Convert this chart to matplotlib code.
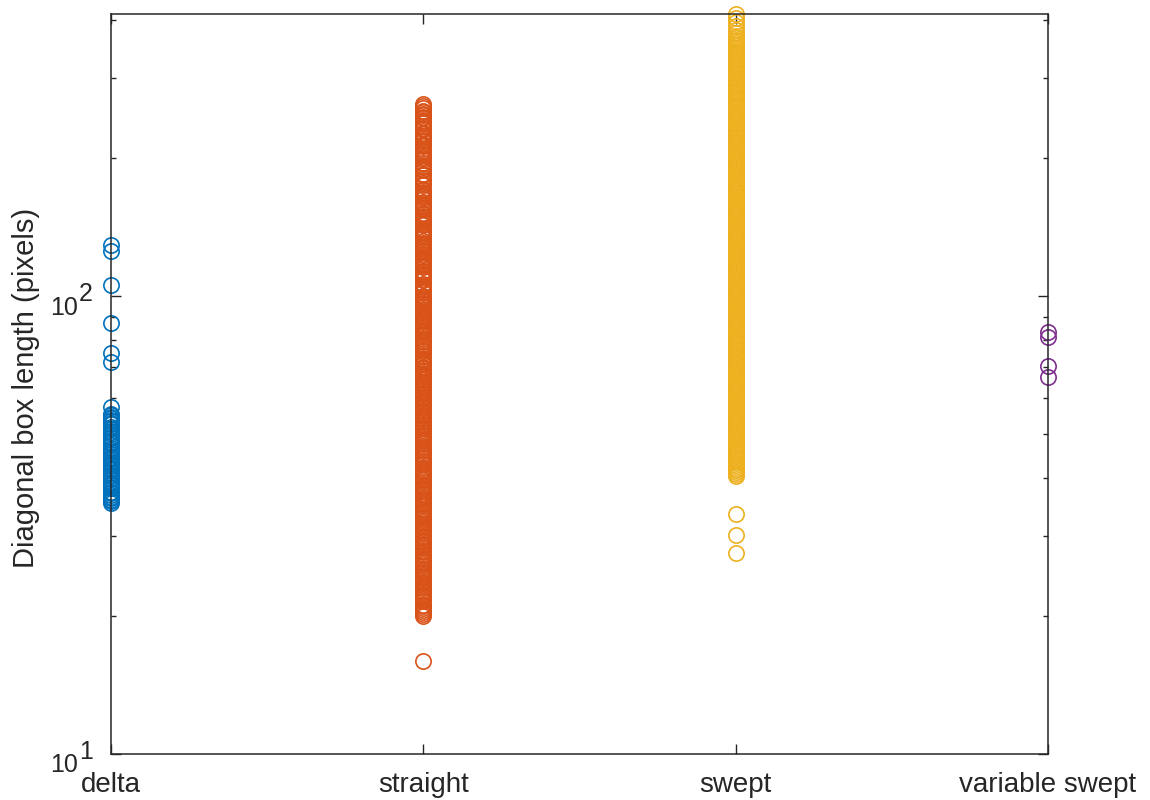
import matplotlib
matplotlib.use("Agg")
import matplotlib.pyplot as plt
import matplotlib.transforms as mtransforms
import numpy as np
from matplotlib.ticker import FuncFormatter, LogLocator, NullFormatter

plt.rcParams["font.family"] = ["Liberation Sans", "DejaVu Sans"]

categories = ["delta", "straight", "swept", "variable swept"]
colors = ["#0072BD", "#D95319", "#EDB120", "#7E2F8E"]

# diagonal box lengths (pixels) per category
delta = [
    129.5, 125.3, 105.6, 87.4, 75.2, 71.8, 57.3,
    55.3, 54.9, 54.5, 54.1, 53.7, 53.3, 52.9, 52.5, 51.7, 51.3, 50.5, 50.1,
    49.3, 48.9, 48.5, 48.1, 47.7, 47.3, 46.5, 46.1, 45.7, 45.3, 44.6, 44.3,
    44.0, 43.7, 43.1, 42.8, 42.5, 42.2, 41.9, 41.6, 41.0, 40.7, 40.4, 40.1,
    39.8, 39.2, 38.9, 38.6, 38.3, 38.0, 37.4, 37.1, 36.8, 36.5, 36.2, 35.9,
    35.6, 35.4,
]

straight = [
    16.0,
    20.0, 20.2, 20.4, 20.6, 20.8, 21.0, 21.2, 21.6, 21.8, 22.0, 22.2, 22.4,
    22.6, 22.8, 23.0, 23.2, 23.4, 23.6, 23.8, 24.0, 24.2, 24.4, 24.6, 24.8,
    25.0, 25.2, 25.4, 25.8, 26.0, 26.2, 26.4, 26.6, 26.8, 27.0, 27.4, 27.6,
    27.8, 28.2, 28.4, 28.6, 28.8, 29.0, 29.2, 29.4, 29.6, 29.8,
    30.0, 30.3, 30.6, 30.9, 31.2, 31.5, 31.8, 32.1, 32.4, 32.7, 33.0, 33.3,
    33.6, 33.9, 34.2, 34.8, 35.1, 35.4, 35.7, 36.0, 36.3, 36.6, 36.9, 37.2,
    37.5, 37.8, 38.1, 38.4, 38.7, 39.3, 39.6, 39.9,
    40.2, 40.6, 41.0, 41.4, 41.8, 42.2, 43.0, 43.4, 43.8, 44.2, 44.6, 45.0,
    45.4, 45.8, 46.2, 46.6, 47.0, 47.8, 48.2, 48.6, 49.0, 49.4, 49.8, 50.2,
    50.6, 51.0, 51.4, 51.8, 52.2, 52.6, 53.0, 53.4, 53.8, 54.2, 54.6,
    55.0, 55.5, 56.0, 56.5, 57.0, 57.5, 58.0, 58.5, 59.0, 59.5, 60.0, 60.5,
    61.0, 61.5, 62.0, 62.5, 63.0, 63.5, 64.0, 64.5, 65.0, 65.5, 66.0, 66.5,
    67.0, 67.5, 68.0, 68.5, 69.0, 69.5, 70.0, 71.0, 71.5, 72.0, 72.5, 73.0,
    74.0, 75.0,
    75.7, 76.4, 77.1, 77.8, 78.5, 79.2, 79.9, 80.6, 82.0, 82.7, 83.4, 84.1,
    84.8, 85.5, 86.2, 86.9, 87.6, 88.3, 89.0, 89.7, 90.4, 91.1, 91.8, 92.5,
    93.2, 93.9, 94.6, 95.3, 96.0, 96.7, 97.4, 98.1, 98.8, 99.5,
    100.2, 102.0, 102.9, 103.8, 104.7, 105.6, 106.5, 108.3, 109.2, 110.1,
    111.0, 111.9, 112.8, 113.7, 115.5, 116.4, 117.3, 118.2, 119.1, 120.0,
    120.9, 121.8, 122.7, 123.6, 124.5, 125.4, 126.3, 127.2, 128.1, 129.0,
    129.9,
    130.8, 131.9, 134.2, 135.4, 136.6, 137.8, 139.0, 140.2, 142.6, 143.8,
    145.0, 146.2, 147.4, 148.6, 149.8, 151.0, 152.2, 154.6, 155.8, 157.0,
    158.2, 159.4, 160.6, 163.0, 164.2, 165.4, 166.6, 167.8, 169.0,
    170.2, 171.7, 174.7, 176.2, 179.2, 180.7, 183.7, 185.2, 188.2, 189.7,
    191.2, 192.7, 195.7, 198.7, 200.2, 201.7, 203.2, 204.7, 206.2, 207.7,
    209.2, 212.2, 213.7, 215.2, 218.2, 219.7,
    221.6, 223.5, 225.4, 227.3, 231.1, 233.0, 234.9, 238.7, 240.6, 244.4,
    246.3, 248.2, 250.1, 252.0, 253.9, 257.7, 259.6, 263.0,
]

swept = [
    27.5, 30.1, 33.4,
    40.4, 40.8, 41.2, 41.6, 42.0, 42.4, 42.8, 43.2, 43.6, 44.0, 44.4, 44.8,
    45.2, 45.6, 46.0, 46.4, 46.8, 47.2, 47.6, 48.0, 48.4, 48.8, 49.2, 49.6,
    50.0, 50.4, 50.8, 51.2, 51.6, 52.0, 52.4, 52.8, 53.2, 53.6, 54.0, 54.4,
    54.8,
    55.2, 55.7, 56.2, 56.7, 57.2, 57.7, 58.2, 58.7, 59.2, 59.7, 60.2, 60.7,
    61.2, 61.7, 62.2, 62.7, 63.2, 63.7, 64.2, 64.7, 65.2, 65.7, 66.2, 66.7,
    67.2, 67.7, 68.2, 68.7, 69.2, 69.7, 70.2, 70.7, 71.2, 71.7, 72.2, 72.7,
    73.2, 73.7, 74.2, 74.7,
    75.4, 76.1, 76.8, 77.5, 78.2, 78.9, 79.6, 80.3, 81.0, 81.7, 82.4, 83.1,
    83.8, 84.5, 85.2, 85.9, 86.6, 87.3, 88.0, 88.7, 89.4, 90.1, 90.8, 91.5,
    92.2, 92.9, 93.6, 94.3, 95.0, 95.7, 96.4, 97.1, 97.8, 98.5, 99.2, 99.9,
    100.8, 101.7, 102.6, 103.5, 104.4, 105.3, 106.2, 107.1, 108.0, 108.9,
    109.8, 110.7, 111.6, 112.5, 113.4, 114.3, 115.2, 116.1, 117.0, 117.9,
    118.8, 119.7, 120.6, 121.5, 122.4, 123.3, 124.2, 125.1, 126.0, 126.9,
    127.8, 128.7, 129.6,
    130.8, 132.0, 133.2, 134.4, 135.6, 136.8, 138.0, 139.2, 140.4, 141.6,
    142.8, 144.0, 145.2, 146.4, 147.6, 148.8, 150.0, 151.2, 152.4, 153.6,
    154.8, 156.0, 157.2, 158.4, 159.6, 160.8, 162.0, 163.2, 164.4, 165.6,
    166.8, 168.0, 169.2,
    170.4, 171.9, 173.4, 174.9, 176.4, 177.9, 179.4, 180.9, 182.4, 183.9,
    185.4, 186.9, 188.4, 189.9, 191.4, 192.9, 194.4, 195.9, 197.4, 198.9,
    200.4, 201.9, 203.4, 204.9, 206.4, 207.9, 209.4, 210.9, 212.4, 213.9,
    215.4, 216.9, 218.4, 219.9,
    222, 224, 226, 228, 230, 232, 234, 236, 238, 240, 242, 244, 246, 248,
    250, 252, 254, 256, 258, 260,
    262.5, 265, 267.5, 270, 272.5, 275, 277.5, 280, 282.5, 285, 287.5, 290,
    292.5, 295, 297.5, 300, 302.5, 305, 307.5, 310, 312.5, 315, 317.5, 320,
    322.5, 325, 327.5, 330,
    333, 336, 339, 342, 345, 348, 351, 354, 357, 360, 363, 366,
    370, 376, 382, 389, 396, 404, 413,
]

variable_swept = [83.5, 81.5, 70.5, 66.5]

series = [delta, straight, swept, variable_swept]

TEXT_COLOR = "#262626"


def main() -> None:
    fig = plt.figure(figsize=(11.5, 8), dpi=100)
    ax = fig.add_axes([0.0965, 0.0575, 0.8148, 0.925])

    for i, (values, color) in enumerate(zip(series, colors)):
        values = np.asarray(values, dtype=float)
        ax.plot(np.full(values.size, i + 1), values, linestyle="none", marker="o",
                markersize=11, markerfacecolor="none", markeredgecolor=color,
                markeredgewidth=1.2, clip_on=False)

    ax.set_yscale("log")
    ax.set_ylim(10, 413)
    ax.set_xlim(1, 4)
    ax.set_xticks(range(1, len(categories) + 1))
    ax.set_xticklabels(categories)
    ax.yaxis.set_major_locator(LogLocator(base=10))
    ax.yaxis.set_minor_locator(LogLocator(base=10, subs=np.arange(2, 10)))
    ax.yaxis.set_minor_formatter(NullFormatter())
    # base only; exponent is drawn separately, MATLAB-style (nearly full size)
    ax.yaxis.set_major_formatter(FuncFormatter(lambda v, pos: "10"))
    ax.set_ylabel("Diagonal box length (pixels)", fontsize=21, color=TEXT_COLOR)
    ax.yaxis.set_label_coords(-0.0755, 0.495)

    ax.tick_params(which="both", direction="in", top=True, right=True,
                   colors=TEXT_COLOR, width=1.0)
    ax.tick_params(which="major", length=7)
    ax.tick_params(which="minor", length=3.5)
    ax.tick_params(axis="x", pad=13, labelsize=20)
    ax.tick_params(axis="y", pad=24, labelsize=18)
    for spine in ax.spines.values():
        spine.set_color(TEXT_COLOR)
        spine.set_linewidth(1.1)

    fig.canvas.draw()
    shift = mtransforms.ScaledTranslation(0, -9 / 100, fig.dpi_scale_trans)
    for tick in ax.yaxis.get_major_ticks():
        tick.label1.set_transform(tick.label1.get_transform() + shift)

    lo, hi = ax.get_ylim()
    for v in ax.get_yticks():
        if lo <= v <= hi:
            ax.annotate(str(int(round(np.log10(v)))), xy=(0, v),
                        xycoords=ax.get_yaxis_transform(),
                        xytext=(-23, 1.5), textcoords="offset points",
                        ha="left", va="center", fontsize=18, color=TEXT_COLOR,
                        annotation_clip=False)

    fig.savefig("out.png", dpi=100)
    plt.close(fig)


if __name__ == "__main__":
    main()
